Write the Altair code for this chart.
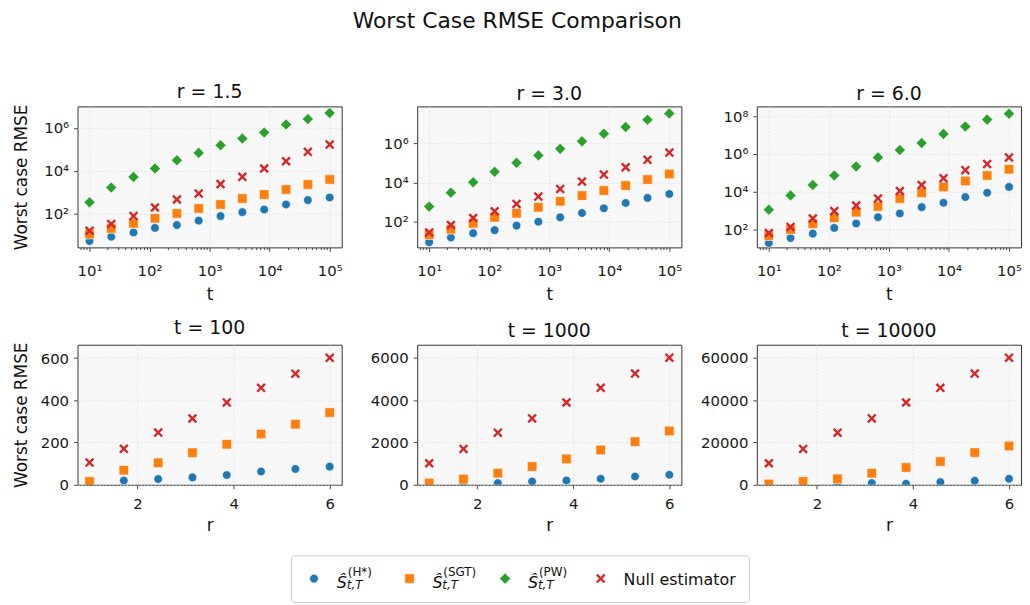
import altair as alt
import pandas as pd

# ---------------- data ----------------
T_VALUES = [10, 23, 54, 123, 285, 658, 1520, 3511, 8111, 18738, 43288, 100000]
R_VALUES = [1.0, 1.714, 2.429, 3.143, 3.857, 4.571, 5.286, 6.0]

R15_HSTAR = [5.1, 8.1, 12.9, 21, 28.5, 46, 75, 115, 153, 263, 420, 560]
R15_SGT = [10.8, 20, 34, 59, 100, 171, 263, 500, 770, 1320, 2250, 3870]
R15_PW = [330, 1630, 5100, 12600, 31000, 68000, 155000, 318000, 610000, 1.45e6, 2.6e6, 5.0e6]
R15_NULL = [15.5, 32, 75, 190, 450, 850, 2350, 5150, 12600, 27700, 76000, 166000]

R30_HSTAR = [9.1, 15.8, 26, 37, 63, 100, 166, 277, 480, 900, 1620, 2580]
R30_SGT = [21.8, 41, 82, 166, 267, 540, 1090, 2130, 3820, 6900, 13900, 27000]
R30_PW = [585, 3000, 10200, 34700, 100000, 237000, 510000, 1.23e6, 3.0e6, 6.6e6, 1.55e7, 3.2e7]
R30_NULL = [28.5, 68, 154, 340, 800, 1900, 4650, 11000, 25000, 59000, 141000, 330000]

R60_HSTAR = [20.4, 37.6, 64, 128, 218, 470, 740, 1590, 2700, 5400, 9150, 18500]
R60_SGT = [50, 104, 209, 435, 865, 1740, 4600, 9200, 18500, 38000, 74000, 158000]
R60_PW = [1150, 6600, 23400, 74000, 222000, 665000, 1.62e6, 3.8e6, 1.15e7, 2.8e7, 6.5e7, 1.32e8]
R60_NULL = [69, 144, 400, 980, 1950, 4600, 11300, 23400, 53000, 141000, 295000, 665000]

T100_HSTAR = [10, 20, 27, 35, 46, 63, 75, 86]
T100_SGT = [15, 69, 104, 152, 192, 240, 287, 342]
T100_NULL = [105, 170, 247, 314, 390, 459, 526, 601]

T1000_HSTAR = [10, 30, 78, 157, 204, 282, 392, 470]
T1000_SGT = [78, 266, 548, 862, 1222, 1645, 2037, 2538]
T1000_NULL = [1018, 1692, 2460, 3133, 3885, 4575, 5248, 6000]

T10000_HSTAR = [60, 120, 250, 780, 470, 1250, 1880, 2820]
T10000_SGT = [313, 1567, 2820, 5480, 8150, 10970, 15200, 18330]
T10000_NULL = [10180, 16920, 24600, 31330, 38850, 45750, 52480, 60000]

SERIES_KEYS = ["H", "SGT", "PW", "NULL"]
SERIES_COLORS = ["#1f77b4", "#ff7f0e", "#2ca02c", "#d62728"]
LEGEND_MAIN = ["Ŝ", "Ŝ", "Ŝ", "Null estimator"]
LEGEND_SUP = ["(H*)", "(SGT)", "(PW)", ""]
LEGEND_SUB = ["t,T", "t,T", "t,T", ""]
LEGEND_SLOT = [0, 1, 2, 3]

TOP_TITLES = ["r = 1.5", "r = 3.0", "r = 6.0"]
BOTTOM_TITLES = ["t = 100", "t = 1000", "t = 10000"]
SUPTITLE = "Worst Case RMSE Comparison"
YLABEL = "Worst case RMSE"

X_MAJOR_TOP = [10, 100, 1000, 10000, 100000]
X_MINOR_TOP = [m * 10 ** k for k in range(0, 5) for m in range(2, 10) if 6.3 < m * 10 ** k < 1.58e5]
Y_TICKS_TOP = [[1e2, 1e4, 1e6], [1e2, 1e4, 1e6], [1e2, 1e4, 1e6, 1e8]]
Y_DOM_TOP = [[2.57, 1.02e7], [4.9, 7.4e7], [12.0, 3.24e8]]
X_DOM_TOP = [6.31, 158489]

X_TICKS_BOT = [2, 4, 6]
X_DOM_BOT = [0.75, 6.25]
Y_TICKS_BOT = [[0, 200, 400, 600], [0, 2000, 4000, 6000], [0, 20000, 40000, 60000]]
Y_DOM_BOT = [[0, 663], [0, 6611], [0, 66110]]

# ---------------- styling ----------------
FONT = "DejaVu Sans"
W = 266
H_TOP = 142
H_BOT = 141
PANEL_BG = "#f8f8f8"
PANEL_EDGE = "#333333"

ISMAJ = "abs(log(datum.value)/LN10 - round(log(datum.value)/LN10)) < 0.001"
SUP = "['\u2070','\u00b9','\u00b2','\u00b3','\u2074','\u2075','\u2076','\u2077','\u2078','\u2079'][round(log(datum.value)/LN10)]"
LBL_X_LOG = f"({ISMAJ}) ? '10' + {SUP} : ''"
LBL_POW = f"'10' + {SUP}"

MARK_STYLE = {
    "H": dict(shape="circle", filled=True, size=75, stroke="white", strokeWidth=0.6),
    "SGT": dict(shape="square", filled=True, size=92, stroke="white", strokeWidth=0.6),
    "PW": dict(shape="diamond", filled=True, size=125, stroke="white", strokeWidth=0.6),
    "NULL": dict(shape="M-1,-1L1,1M-1,1L1,-1", filled=False, size=62, strokeWidth=2.4),
}


def layers_for(df, x, y, keys):
    base = alt.Chart(df).encode(x=x, y=y)
    out = []
    for k in keys:
        c = SERIES_COLORS[SERIES_KEYS.index(k)]
        out.append(
            base.transform_filter(alt.datum.s == k).mark_point(
                color=c, opacity=1, clip=True, **MARK_STYLE[k]
            )
        )
    return out


def top_panel(i, series):
    keys = SERIES_KEYS
    df = pd.DataFrame({
        "t": T_VALUES * len(keys),
        "v": sum(series, []),
        "s": sum([[k] * len(T_VALUES) for k in keys], []),
    })
    x = alt.X("t:Q", scale=alt.Scale(type="log", domain=X_DOM_TOP, nice=False),
              axis=alt.Axis(values=X_MAJOR_TOP + X_MINOR_TOP, labelExpr=LBL_X_LOG,
                            tickSize={"condition": {"test": ISMAJ, "value": 4}, "value": 2.2},
                            gridOpacity={"condition": {"test": ISMAJ, "value": 1}, "value": 0},
                            labelBaseline="alphabetic", labelPadding=24,
                            title="t", titleX=W / 2, titleY=52, titleBaseline="alphabetic"))
    y = alt.Y("v:Q", scale=alt.Scale(type="log", domain=Y_DOM_TOP[i], nice=False),
              axis=alt.Axis(values=Y_TICKS_TOP[i], labelExpr=LBL_POW, tickSize=4, labelPadding=5,
                            title=YLABEL if i == 0 else "", titleX=-51, titleY=H_TOP / 2,
                            titleBaseline="alphabetic", titleAngle=270))
    return alt.layer(*layers_for(df, x, y, keys)).properties(
        width=W, height=H_TOP,
        title=alt.TitleParams(TOP_TITLES[i], baseline="alphabetic", offset=-13, anchor="middle", frame="group"),
        view=alt.ViewBackground(fill=PANEL_BG, stroke=PANEL_EDGE, strokeWidth=1),
    )


def bottom_panel(i, series):
    keys = ["H", "SGT", "NULL"]
    df = pd.DataFrame({
        "r": R_VALUES * len(keys),
        "v": sum(series, []),
        "s": sum([[k] * len(R_VALUES) for k in keys], []),
    })
    x = alt.X("r:Q", scale=alt.Scale(domain=X_DOM_BOT, nice=False, zero=False),
              axis=alt.Axis(values=X_TICKS_BOT, format="d", tickSize=4,
                            labelBaseline="alphabetic", labelPadding=20,
                            title="r", titleX=W / 2, titleY=46, titleBaseline="alphabetic"))
    y = alt.Y("v:Q", scale=alt.Scale(domain=Y_DOM_BOT[i], nice=False),
              axis=alt.Axis(values=Y_TICKS_BOT[i], format="d", tickSize=4, labelPadding=5,
                            title=YLABEL if i == 0 else "", titleX=-51, titleY=H_BOT / 2,
                            titleBaseline="alphabetic", titleAngle=270))
    return alt.layer(*layers_for(df, x, y, keys)).properties(
        width=W, height=H_BOT,
        title=alt.TitleParams(BOTTOM_TITLES[i], baseline="alphabetic", offset=-11, anchor="middle", frame="group"),
        view=alt.ViewBackground(fill=PANEL_BG, stroke=PANEL_EDGE, strokeWidth=1),
    )


panels = [
    top_panel(0, [R15_HSTAR, R15_SGT, R15_PW, R15_NULL]),
    top_panel(1, [R30_HSTAR, R30_SGT, R30_PW, R30_NULL]),
    top_panel(2, [R60_HSTAR, R60_SGT, R60_PW, R60_NULL]),
    bottom_panel(0, [T100_HSTAR, T100_SGT, T100_NULL]),
    bottom_panel(1, [T1000_HSTAR, T1000_SGT, T1000_NULL]),
    bottom_panel(2, [T10000_HSTAR, T10000_SGT, T10000_NULL]),
]

grid = alt.concat(*panels, columns=3, spacing=alt.RowColnumber(row=98, column=76), bounds="flush")

# ---------------- legend ----------------
LEG_W = 461
LEG_H = 47
LEG_INDENT = 214
leg_df = pd.DataFrame({
    "slot": LEGEND_SLOT,
    "row": [0] * 4,
    "s": SERIES_KEYS,
    "main": LEGEND_MAIN,
    "sup": LEGEND_SUP,
    "sub": LEGEND_SUB,
})
lx = alt.X("slot:Q", scale=alt.Scale(domain=[-0.24, 4.55], nice=False, zero=False), axis=None)
ly = alt.Y("row:Q", scale=alt.Scale(domain=[-1, 1], nice=False), axis=None)
lbase = alt.Chart(leg_df).encode(x=lx, y=ly)
leg_layers = []
for k, c in zip(SERIES_KEYS, SERIES_COLORS):
    leg_layers.append(
        lbase.transform_filter(alt.datum.s == k).mark_point(color=c, opacity=1, **MARK_STYLE[k])
    )
leg_layers.append(
    lbase.transform_filter(alt.datum.s != "NULL").mark_text(
        align="left", baseline="alphabetic", dx=23, dy=9, fontSize=16, fontStyle="italic",
        font=FONT, color="#111").encode(text="main:N")
)
leg_layers.append(
    lbase.transform_filter(alt.datum.s == "NULL").mark_text(
        align="left", baseline="middle", dx=23, dy=1, fontSize=16,
        font=FONT, color="#111").encode(text="main:N")
)
leg_layers.append(
    lbase.transform_filter(alt.datum.s != "NULL").mark_text(
        align="left", baseline="alphabetic", dx=34, dy=-2.5, fontSize=12,
        font=FONT, color="#111").encode(text="sup:N")
)
leg_layers.append(
    lbase.transform_filter(alt.datum.s != "NULL").mark_text(
        align="left", baseline="alphabetic", dx=33, dy=10.5, fontSize=12, fontStyle="italic",
        font=FONT, color="#111").encode(text="sub:N")
)
legend = alt.layer(*leg_layers).properties(
    width=LEG_W, height=LEG_H,
    view=alt.ViewBackground(fill="white", stroke="#cccccc", strokeWidth=1, cornerRadius=3),
)

# empty spacer that shifts the legend box under the middle of the figure
spacer = alt.Chart(pd.DataFrame({"z": [0]})).mark_point(opacity=0).encode(
    x=alt.X("z:Q", axis=None), y=alt.Y("z:Q", axis=None)
).properties(
    width=LEG_INDENT, height=LEG_H,
    view=alt.ViewBackground(strokeOpacity=0, fillOpacity=0),
)
legend_row = alt.hconcat(spacer, legend, spacing=0)

chart = alt.vconcat(grid, legend_row, spacing=20).properties(
    title=alt.TitleParams(SUPTITLE, fontSize=22, anchor="middle", offset=50),
    padding={"left": 4, "top": 0, "right": 0, "bottom": 0},
).configure(font=FONT).configure_axis(
    labelFont=FONT, labelFontSize=15, labelColor="#1a1a1a",
    tickColor="#333333", tickWidth=0.9, domain=False,
    gridColor="#dcdcdc", gridDash=[1.5, 2], gridWidth=0.8,
    titleFont=FONT, titleFontSize=17, titleFontWeight="normal", titleColor="#111111",
    labelFlush=False, labelOverlap=False,
).configure_title(
    font=FONT, fontSize=19, fontWeight="normal", color="#111111",
)

chart.save("out.html", embed_options={"renderer": "svg", "actions": False})
